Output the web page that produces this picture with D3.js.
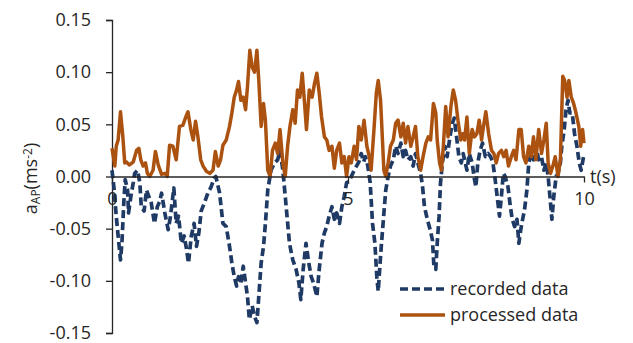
<!DOCTYPE html>
<html>
<head>
<meta charset="utf-8">
<script src="https://cdn.jsdelivr.net/npm/d3@7"></script>
<style>
  body { margin: 0; background: #fff; }
  svg text { font-family: "Open Sans", sans-serif; fill: #262626; }
</style>
</head>
<body>
<div id="chart"></div>
<script>
// recorded (raw) signal, time in s and acceleration in m/s^2
const recordedT = [0, 0.04, 0.09, 0.13, 0.18, 0.21, 0.25, 0.28, 0.33, 0.35, 0.4, 0.45, 0.48, 0.54, 0.59, 0.62, 0.68, 0.73, 0.78, 0.83, 0.9, 0.96, 1.01, 1.05, 1.12, 1.19, 1.24, 1.31, 1.36, 1.41, 1.47, 1.53, 1.58, 1.62, 1.68, 1.74, 1.79, 1.84, 1.89, 1.96, 2.03, 2.1, 2.16, 2.2, 2.28, 2.35, 2.42, 2.49, 2.54, 2.59, 2.64, 2.68, 2.73, 2.78, 2.83, 2.87, 2.91, 2.97, 3.02, 3.07, 3.11, 3.16, 3.21, 3.25, 3.3, 3.37, 3.44, 3.51, 3.56, 3.62, 3.69, 3.76, 3.83, 3.9, 3.96, 4.0, 4.05, 4.11, 4.17, 4.22, 4.27, 4.34, 4.39, 4.45, 4.5, 4.55, 4.6, 4.66, 4.71, 4.76, 4.82, 4.87, 4.92, 4.97, 5.02, 5.07, 5.13, 5.18, 5.23, 5.28, 5.33, 5.37, 5.42, 5.47, 5.52, 5.57, 5.61, 5.64, 5.68, 5.71, 5.75, 5.8, 5.85, 5.9, 5.96, 6.01, 6.06, 6.12, 6.17, 6.22, 6.27, 6.33, 6.38, 6.43, 6.48, 6.54, 6.58, 6.62, 6.68, 6.74, 6.79, 6.82, 6.86, 6.89, 6.93, 6.96, 7.0, 7.05, 7.1, 7.16, 7.21, 7.25, 7.3, 7.35, 7.4, 7.44, 7.52, 7.57, 7.63, 7.68, 7.71, 7.75, 7.8, 7.85, 7.91, 7.97, 8.02, 8.07, 8.11, 8.16, 8.21, 8.25, 8.29, 8.33, 8.39, 8.44, 8.48, 8.53, 8.58, 8.62, 8.66, 8.7, 8.74, 8.79, 8.83, 8.88, 8.93, 8.98, 9.04, 9.1, 9.15, 9.2, 9.24, 9.29, 9.32, 9.36, 9.41, 9.45, 9.5, 9.53, 9.58, 9.62, 9.66, 9.7, 9.75, 9.8, 9.85, 9.9, 9.94, 9.99];
const recordedA = [0.006, -0.01, -0.038, -0.057, -0.08, -0.064, -0.025, -0.003, -0.013, -0.035, -0.019, -0.006, 0.003, 0.006, -0.006, -0.029, -0.033, -0.013, -0.019, -0.025, -0.045, -0.029, -0.024, -0.016, -0.035, -0.051, -0.038, -0.011, -0.045, -0.038, -0.064, -0.057, -0.07, -0.083, -0.057, -0.045, -0.067, -0.054, -0.033, -0.025, -0.016, -0.01, -0.002, 0.0, -0.016, -0.045, -0.048, -0.067, -0.083, -0.096, -0.105, -0.096, -0.102, -0.086, -0.102, -0.115, -0.137, -0.124, -0.134, -0.14, -0.115, -0.083, -0.067, -0.045, -0.013, 0.006, 0.013, 0.016, 0.025, 0.006, -0.029, -0.064, -0.08, -0.089, -0.102, -0.118, -0.089, -0.064, -0.083, -0.096, -0.102, -0.115, -0.089, -0.064, -0.054, -0.048, -0.038, -0.029, -0.041, -0.035, -0.045, -0.029, -0.019, -0.006, -0.005, 0.0, 0.006, 0.01, 0.014, 0.022, 0.014, 0.019, 0.01, -0.006, -0.045, -0.064, -0.096, -0.11, -0.083, -0.064, -0.041, -0.013, 0.0, 0.01, 0.016, 0.029, 0.022, 0.032, 0.019, 0.025, 0.016, 0.019, 0.01, 0.022, 0.013, 0.003, -0.01, -0.029, -0.041, -0.051, -0.061, -0.086, -0.089, -0.064, -0.038, -0.006, 0.013, 0.029, 0.019, 0.038, 0.051, 0.056, 0.038, 0.019, 0.013, 0.022, 0.006, 0.022, 0.013, -0.003, -0.01, 0.013, 0.025, 0.032, 0.019, 0.022, 0.019, 0.013, 0.0, -0.019, -0.038, -0.019, 0.003, 0.0, -0.01, -0.029, -0.041, -0.048, -0.041, -0.064, -0.051, -0.041, -0.032, -0.013, 0.013, 0.022, 0.016, 0.029, 0.016, 0.019, 0.006, 0.013, 0.0, -0.025, -0.041, -0.019, 0.0, 0.003, 0.013, 0.029, 0.045, 0.064, 0.073, 0.061, 0.061, 0.041, 0.029, 0.013, 0.006, 0.019];

// processed signal
const processedT = [0, 0.06, 0.09, 0.13, 0.18, 0.23, 0.27, 0.3, 0.37, 0.45, 0.52, 0.57, 0.61, 0.66, 0.71, 0.75, 0.8, 0.87, 0.92, 0.98, 1.05, 1.12, 1.17, 1.22, 1.29, 1.36, 1.43, 1.5, 1.58, 1.61, 1.67, 1.72, 1.77, 1.82, 1.88, 1.93, 2.0, 2.07, 2.14, 2.19, 2.25, 2.3, 2.35, 2.42, 2.49, 2.54, 2.59, 2.64, 2.68, 2.73, 2.78, 2.83, 2.87, 2.92, 2.97, 3.02, 3.07, 3.11, 3.16, 3.21, 3.25, 3.3, 3.35, 3.4, 3.46, 3.51, 3.56, 3.62, 3.67, 3.72, 3.77, 3.83, 3.88, 3.93, 3.98, 4.03, 4.08, 4.12, 4.18, 4.24, 4.29, 4.34, 4.39, 4.44, 4.5, 4.55, 4.6, 4.66, 4.71, 4.76, 4.82, 4.87, 4.92, 4.97, 5.02, 5.07, 5.13, 5.18, 5.23, 5.28, 5.34, 5.4, 5.45, 5.49, 5.55, 5.6, 5.64, 5.69, 5.73, 5.76, 5.8, 5.85, 5.9, 5.96, 6.01, 6.06, 6.12, 6.17, 6.22, 6.27, 6.33, 6.38, 6.43, 6.48, 6.54, 6.59, 6.65, 6.7, 6.75, 6.81, 6.86, 6.89, 6.94, 6.98, 7.02, 7.07, 7.12, 7.18, 7.23, 7.28, 7.33, 7.39, 7.43, 7.47, 7.52, 7.57, 7.63, 7.68, 7.73, 7.78, 7.83, 7.87, 7.92, 7.98, 8.04, 8.09, 8.14, 8.19, 8.25, 8.3, 8.35, 8.4, 8.46, 8.51, 8.56, 8.62, 8.67, 8.72, 8.77, 8.83, 8.88, 8.93, 8.98, 9.04, 9.1, 9.15, 9.2, 9.24, 9.29, 9.34, 9.39, 9.45, 9.5, 9.55, 9.59, 9.64, 9.68, 9.73, 9.78, 9.83, 9.89, 9.93, 9.97, 10.0];
const processedA = [0.027, 0.01, 0.029, 0.035, 0.062, 0.038, 0.013, 0.014, 0.011, 0.014, 0.025, 0.027, 0.016, 0.01, 0.013, 0.003, 0.0, 0.006, 0.024, 0.011, 0.002, 0.003, 0.0, 0.03, 0.029, 0.016, 0.048, 0.049, 0.059, 0.062, 0.045, 0.035, 0.053, 0.038, 0.016, 0.01, 0.005, 0.003, 0.006, 0.024, 0.01, 0.016, 0.03, 0.035, 0.048, 0.061, 0.076, 0.083, 0.091, 0.073, 0.076, 0.064, 0.086, 0.121, 0.105, 0.1, 0.121, 0.092, 0.048, 0.07, 0.054, 0.006, 0.0, 0.025, 0.032, 0.022, 0.045, 0.013, 0.0, 0.029, 0.048, 0.064, 0.051, 0.083, 0.076, 0.099, 0.07, 0.045, 0.083, 0.076, 0.089, 0.099, 0.08, 0.057, 0.038, 0.035, 0.025, 0.029, 0.008, 0.025, 0.032, 0.013, 0.019, 0.0, 0.019, 0.013, 0.029, 0.016, 0.048, 0.035, 0.054, 0.029, 0.019, 0.006, 0.045, 0.08, 0.092, 0.073, 0.035, 0.006, 0.0, 0.013, 0.029, 0.035, 0.051, 0.054, 0.038, 0.051, 0.032, 0.048, 0.029, 0.038, 0.048, 0.019, 0.006, 0.019, 0.032, 0.038, 0.035, 0.07, 0.061, 0.035, 0.013, 0.006, 0.029, 0.067, 0.038, 0.067, 0.083, 0.073, 0.054, 0.035, 0.041, 0.035, 0.057, 0.022, 0.045, 0.038, 0.041, 0.054, 0.035, 0.048, 0.062, 0.041, 0.025, 0.022, 0.013, 0.022, 0.025, 0.019, 0.025, 0.01, 0.019, 0.025, 0.016, 0.045, 0.045, 0.019, 0.013, 0.029, 0.019, 0.038, 0.016, 0.045, 0.022, 0.035, 0.051, 0.013, 0.003, 0.01, 0.019, 0.0, 0.016, 0.096, 0.092, 0.076, 0.092, 0.076, 0.07, 0.061, 0.048, 0.029, 0.045, 0.032];

const xTicks = [0, 5, 10];
const yTicks = [-0.15, -0.10, -0.05, 0.00, 0.05, 0.10, 0.15];
const seriesNames = ['recorded data', 'processed data'];
const seriesColors = ['#1f3a64', '#ab5210'];

const width = 633, height = 343;
const margin = { top: 20, right: 49, bottom: 10, left: 112 };

const svg = d3.select('#chart').append('svg')
    .attr('width', width)
    .attr('height', height);

const x = d3.scaleLinear()
    .domain([0, 10])
    .range([margin.left, width - margin.right]);

const y = d3.scaleLinear()
    .domain([-0.15, 0.15])
    .range([height - margin.bottom, margin.top]);

// y axis on the left edge
const yAxis = d3.axisLeft(y)
    .tickValues(yTicks)
    .tickSize(6)
    .tickPadding(15)
    .tickFormat(d3.format('.2f'));

const gy = svg.append('g')
    .attr('transform', 'translate(' + x(0) + ',0)')
    .call(yAxis);
gy.select('.domain').attr('stroke', '#262626').attr('stroke-width', 1.3);
gy.selectAll('.tick line').attr('stroke', '#262626').attr('stroke-width', 1.3);
gy.selectAll('.tick text')
    .style('font-size', '18px')
    .text(d => d < 0 ? '-' + d3.format('.2f')(-d) : d3.format('.2f')(d));

const toPairs = (ts, vs) => ts.map((t, i) => [t, vs[i]]);
const line = d3.line()
    .x(d => x(d[0]))
    .y(d => y(d[1]));

svg.append('path')
    .datum(toPairs(recordedT, recordedA))
    .attr('fill', 'none')
    .attr('stroke', seriesColors[0])
    .attr('stroke-width', 3.7)
    .attr('stroke-dasharray', '8,4')
    .attr('stroke-linejoin', 'round')
    .attr('d', line);

svg.append('path')
    .datum(toPairs(processedT, processedA))
    .attr('fill', 'none')
    .attr('stroke', seriesColors[1])
    .attr('stroke-width', 3.5)
    .attr('stroke-linejoin', 'round')
    .attr('d', line);

// x axis crosses at zero
const xAxis = d3.axisBottom(x)
    .tickValues(xTicks)
    .tickSize(6)
    .tickPadding(10)
    .tickSizeOuter(0);

const gx = svg.append('g')
    .attr('transform', 'translate(0,' + y(0) + ')')
    .call(xAxis);
gx.select('.domain').attr('stroke', '#262626').attr('stroke-width', 1.3);
gx.selectAll('.tick line').attr('stroke', '#262626').attr('stroke-width', 1.3);
gx.selectAll('.tick text').style('font-size', '18px');

svg.append('text')
    .attr('x', x(10) + 6)
    .attr('y', y(0))
    .attr('dy', '0.35em')
    .style('font-size', '18px')
    .text('t(s)');

const yLabel = svg.append('text')
    .attr('transform', 'translate(37,' + (y(0) + 2) + ') rotate(-90)')
    .attr('text-anchor', 'middle')
    .style('font-size', '18px');
yLabel.append('tspan').text('a');
yLabel.append('tspan').attr('baseline-shift', '-25%').style('font-size', '12px').text('AP');
yLabel.append('tspan').text('(ms');
yLabel.append('tspan').attr('baseline-shift', '40%').style('font-size', '12px').text('-2');
yLabel.append('tspan').text(')');

// legend
const legend = svg.append('g').attr('transform', 'translate(400,289)');
seriesNames.forEach((name, i) => {
    const row = legend.append('g').attr('transform', 'translate(0,' + (i * 26) + ')');
    row.append('line')
        .attr('x1', 0).attr('x2', 45)
        .attr('stroke', seriesColors[i])
        .attr('stroke-width', 3.4)
        .attr('stroke-dasharray', i === 0 ? '8,4' : null);
    row.append('text')
        .attr('x', 50)
        .attr('dy', '0.35em')
        .style('font-size', '18px')
        .text(name);
});
</script>
</body>
</html>
